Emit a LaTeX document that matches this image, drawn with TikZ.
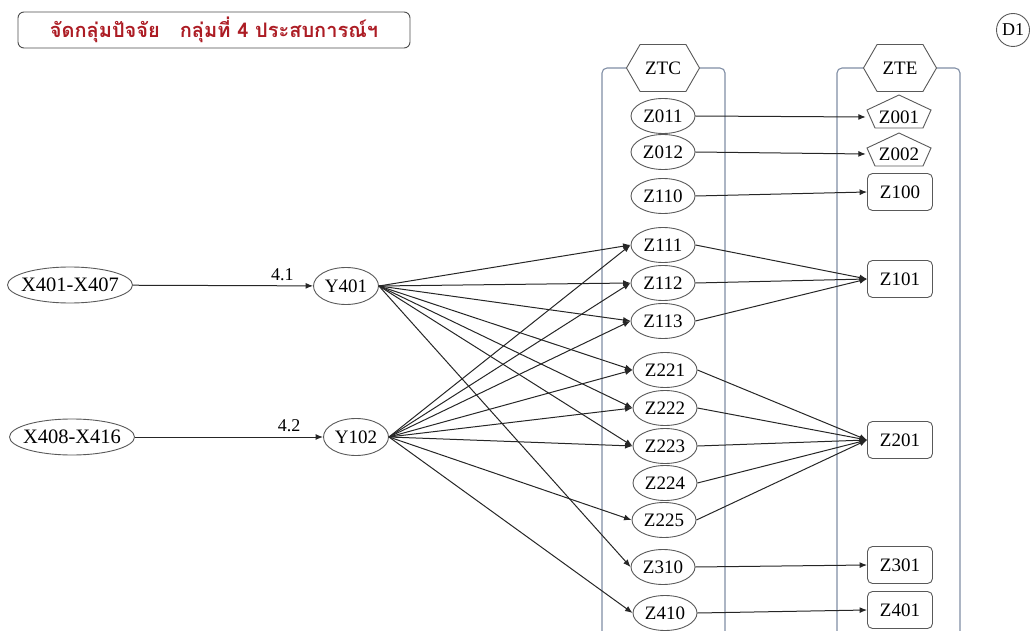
\documentclass[tikz,border=0pt]{standalone}
\usepackage{fontspec}
\setmainfont{Liberation Serif}
\newfontfamily\thaifont[Script=Thai]{Loma}
\usetikzlibrary{shapes.geometric,shapes.symbols,arrows.meta,positioning}
\definecolor{titlered}{RGB}{172,28,36}
\definecolor{framegray}{RGB}{128,142,165}

\begin{document}
\begin{tikzpicture}[
  x=1pt, y=-1pt,
  >={Latex[length=7.5pt,width=6pt]},
  font=\fontsize{19}{21}\selectfont,
  titlebox/.style={rectangle, draw=black!70, rounded corners=6pt, line width=0.9pt, minimum width=392pt, minimum height=36pt, inner sep=0pt},
  srcnode/.style={ellipse, draw=black!65, line width=0.9pt, minimum width=125pt, minimum height=36pt, inner xsep=-6pt, inner ysep=0pt, font=\fontsize{20.5}{22}\selectfont},
  ynode/.style={ellipse, draw=black!65, line width=0.9pt, minimum width=65pt, minimum height=37pt, inner sep=0pt},
  zcnode/.style={ellipse, draw=black!65, line width=0.9pt, minimum width=64pt, minimum height=35pt, inner sep=0pt},
  zenode/.style={rectangle, draw=black!65, rounded corners=5pt, line width=0.9pt, minimum width=65pt, minimum height=37pt, inner sep=0pt},
  zpent/.style={rectangle, minimum width=66pt, minimum height=30pt, inner sep=0pt},
  pentline/.style={draw=black!65, line width=0.9pt},
  colhead/.style={signal, signal to=west and east, signal pointer angle=120, draw=black!65, fill=white, line width=0.9pt, minimum width=73pt, minimum height=47pt, inner sep=0pt},
  colframe/.style={draw=framegray, line width=1.1pt, rounded corners=5pt},
  link/.style={->, draw=black!85, line width=1pt},
  wlabel/.style={font=\fontsize{18}{20}\selectfont, inner sep=5pt}
]
  \useasboundingbox (0,0) rectangle (1031,631);

  % Title and page tag
  \node[titlebox] (title) at (214,30) {\thaifont\fontsize{20}{22}\selectfont\bfseries\color{titlered}จัดกลุ่มปัจจัย\hspace{20pt}กลุ่มที่ 4 ประสบการณ์ฯ};
  \node[circle, draw=black!65, line width=0.9pt, minimum size=33pt, inner sep=0pt, font=\fontsize{18}{20}\selectfont] (d1) at (1013,30) {D1};

  % Column frames (open at the bottom)
  \draw[colframe] (602,632) -- (602,68) -- (725,68) -- (725,632);
  \draw[colframe] (837,632) -- (837,68) -- (960,68) -- (960,632);
  \node[colhead] (ztc) at (663,68) {ZTC};
  \node[colhead] (zte) at (900,68) {ZTE};

  % Source factors (left)
  \node[srcnode] (x401) at (70,285) {X401-X407};
  \node[ynode] (y401) at (346,286) {Y401};
  \node[srcnode] (x408) at (72,437) {X408-X416};
  \node[ynode] (y102) at (356,437) {Y102};

  % ZTC column
  \node[zcnode] (z011) at (663,116) {Z011};
  \node[zcnode] (z012) at (663,152) {Z012};
  \node[zcnode] (z110) at (663,196) {Z110};
  \node[zcnode] (z111) at (663,245) {Z111};
  \node[zcnode] (z112) at (663,283) {Z112};
  \node[zcnode] (z113) at (663,321) {Z113};
  \node[zcnode] (z221) at (665,370) {Z221};
  \node[zcnode] (z222) at (665,408) {Z222};
  \node[zcnode] (z223) at (665,446) {Z223};
  \node[zcnode] (z224) at (665,483) {Z224};
  \node[zcnode] (z225) at (664,520) {Z225};
  \node[zcnode] (z310) at (663,567) {Z310};
  \node[zcnode] (z410) at (665,613) {Z410};

  % ZTE column
  \node[zpent] (z001) at (899,117) {Z001};
  \draw[pentline, shift={(z001.center)}] (0,-22) -- (32,-7) -- (24,11) -- (-24,11) -- (-32,-7) -- cycle;
  \node[zpent] (z002) at (899,154) {Z002};
  \draw[pentline, shift={(z002.center)}] (0,-21) -- (32,-6) -- (24,12) -- (-24,12) -- (-32,-6) -- cycle;
  \node[zenode] (z100) at (900,192) {Z100};
  \node[zenode] (z101) at (900,279) {Z101};
  \node[zenode] (z201) at (900,440) {Z201};
  \node[zenode] (z301) at (900,565) {Z301};
  \node[zenode] (z401) at (900,610) {Z401};

  % Inputs
  \draw[link] (x401) -- node[wlabel, above, pos=0.83] {4.1} (y401);
  \draw[link] (x408) -- node[wlabel, above, pos=0.82] {4.2} (y102);

  % Y401 fan
  \draw[link] (y401.east) -- (z111.west);
  \draw[link] (y401.east) -- (z112.west);
  \draw[link] (y401.east) -- (z113.west);
  \draw[link] (y401.east) -- (z221.west);
  \draw[link] (y401.east) -- (z222.west);
  \draw[link] (y401.east) -- (z223.west);
  \draw[link] (y401.east) -- (z310.west);

  % Y102 fan
  \draw[link] (y102.east) -- (z111.west);
  \draw[link] (y102.east) -- (z112.west);
  \draw[link] (y102.east) -- (z113.west);
  \draw[link] (y102.east) -- (z221.west);
  \draw[link] (y102.east) -- (z222.west);
  \draw[link] (y102.east) -- (z223.west);
  \draw[link] (y102.east) -- (z225.west);
  \draw[link] (y102.east) -- (z410.west);

  % ZTC to ZTE
  \draw[link] (z011.east) -- (z001.west);
  \draw[link] (z012.east) -- (z002.west);
  \draw[link] (z110.east) -- (z100.west);
  \draw[link] (z111.east) -- (z101.west);
  \draw[link] (z112.east) -- (z101.west);
  \draw[link] (z113.east) -- (z101.west);
  \draw[link] (z221.east) -- (z201.west);
  \draw[link] (z222.east) -- (z201.west);
  \draw[link] (z223.east) -- (z201.west);
  \draw[link] (z224.east) -- (z201.west);
  \draw[link] (z225.east) -- (z201.west);
  \draw[link] (z310.east) -- (z301.west);
  \draw[link] (z410.east) -- (z401.west);
\end{tikzpicture}
\end{document}
